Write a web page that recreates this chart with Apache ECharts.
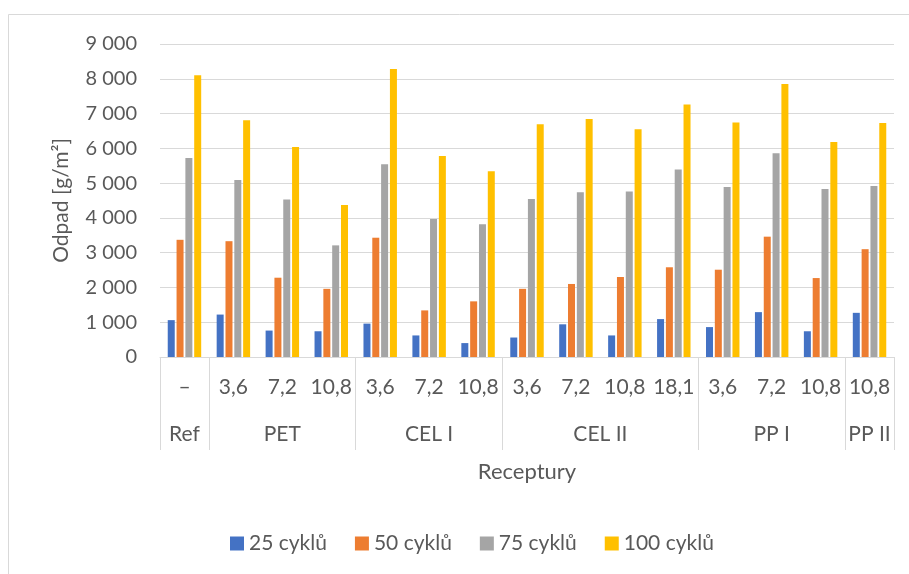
<!DOCTYPE html>
<html>
<head>
<meta charset="utf-8">
<script src="https://cdn.jsdelivr.net/npm/echarts@6/dist/echarts.min.js"></script>
<style>
  html, body { margin: 0; padding: 0; background: #fff; }
  #chart { width: 909px; height: 574px; }
</style>
</head>
<body>
<div id="chart"></div>
<script>
// Sub-categories (fibre dosage) shown in the first row of the x axis
const categories = ['–', '3,6', '7,2', '10,8', '3,6', '7,2', '10,8', '3,6', '7,2', '10,8', '18,1', '3,6', '7,2', '10,8', '10,8'];

// Mixture groups and how many sub-categories each one spans
const groupNames = ['Ref', 'PET', 'CEL I', 'CEL II', 'PP I', 'PP II'];
const groupSizes = [1, 3, 3, 4, 3, 1];

// Scaled-off mass per freeze-thaw cycle count [g/m²]
const cycles25  = [1060, 1220, 760, 740, 960, 620, 400, 560, 940, 620, 1090, 860, 1290, 740, 1270];
const cycles50  = [3370, 3330, 2280, 1960, 3430, 1340, 1600, 1960, 2100, 2300, 2580, 2510, 3460, 2270, 3100];
const cycles75  = [5720, 5090, 4530, 3210, 5540, 3970, 3820, 4540, 4740, 4760, 5390, 4890, 5860, 4830, 4920];
const cycles100 = [8100, 6810, 6040, 4370, 8280, 5780, 5340, 6690, 6840, 6550, 7260, 6740, 7850, 6180, 6730];

const seriesNames = ['25 cyklů', '50 cyklů', '75 cyklů', '100 cyklů'];
const seriesColors = ['#4472C4', '#ED7D31', '#A5A5A5', '#FFC000'];

// Group boundaries and centres in category units (for the second label row)
const boundaries = [0];
const centres = [];
groupSizes.forEach(function (n) {
  const start = boundaries[boundaries.length - 1];
  centres.push(start + n / 2);
  boundaries.push(start + n);
});
const total = boundaries[boundaries.length - 1];

const FONT = 'Lato';
const TEXT = '#595959';
const LINE = '#D9D9D9';

function thousands(v) {
  if (v < 1000) return String(v);
  return Math.floor(v / 1000) + ' ' + String(v % 1000).padStart(3, '0');
}

const chart = echarts.init(document.getElementById('chart'), null, { renderer: 'canvas' });

chart.setOption({
  animation: false,
  backgroundColor: '#fff',
  textStyle: { fontFamily: FONT },
  graphic: [{
    type: 'rect',
    shape: { x: 8.5, y: 14.5, width: 1000, height: 1000 },
    style: { fill: 'none', stroke: LINE, lineWidth: 1 },
    silent: true
  }],
  grid: { left: 160, right: 15, top: 44, bottom: 217 },
  legend: {
    data: seriesNames,
    left: 230,
    top: 533,
    padding: 0,
    icon: 'rect',
    itemWidth: 14,
    itemHeight: 14,
    itemGap: 28,
    textStyle: { fontFamily: FONT, fontSize: 21, color: TEXT }
  },
  xAxis: [
    {
      type: 'category',
      data: categories,
      position: 'bottom',
      axisLine: { lineStyle: { color: LINE, width: 1 } },
      axisTick: { show: false },
      axisLabel: { fontFamily: FONT, fontSize: 21, color: TEXT, margin: 20, interval: 0 },
      splitLine: { show: false }
    },
    {
      type: 'value',
      min: 0,
      max: total,
      position: 'bottom',
      name: 'Receptury',
      nameLocation: 'middle',
      nameGap: 104,
      nameTextStyle: { fontFamily: FONT, fontSize: 22, color: TEXT },
      axisLine: { show: false },
      axisTick: {
        show: true,
        customValues: boundaries,
        length: 93,
        lineStyle: { color: LINE, width: 1 }
      },
      axisLabel: {
        customValues: centres,
        fontFamily: FONT,
        fontSize: 21,
        color: TEXT,
        margin: 67,
        formatter: function (v) {
          const i = centres.findIndex(function (c) { return Math.abs(c - v) < 1e-6; });
          return i >= 0 ? groupNames[i] : '';
        }
      },
      splitLine: { show: false }
    }
  ],
  yAxis: {
    type: 'value',
    min: 0,
    max: 9000,
    interval: 1000,
    name: 'Odpad [g/m²]',
    nameLocation: 'middle',
    nameGap: 88,
    nameTextStyle: { fontFamily: FONT, fontSize: 21, color: TEXT },
    axisLine: { show: false },
    axisTick: { show: false },
    axisLabel: { fontFamily: FONT, fontSize: 20, color: TEXT, margin: 23, formatter: thousands },
    splitLine: { lineStyle: { color: LINE, width: 1 } }
  },
  series: [cycles25, cycles50, cycles75, cycles100].map(function (vals, i) {
    return {
      name: seriesNames[i],
      type: 'bar',
      xAxisIndex: 0,
      data: vals,
      barWidth: 7,
      barGap: '26%',
      itemStyle: { color: seriesColors[i] }
    };
  })
});
</script>
</body>
</html>
